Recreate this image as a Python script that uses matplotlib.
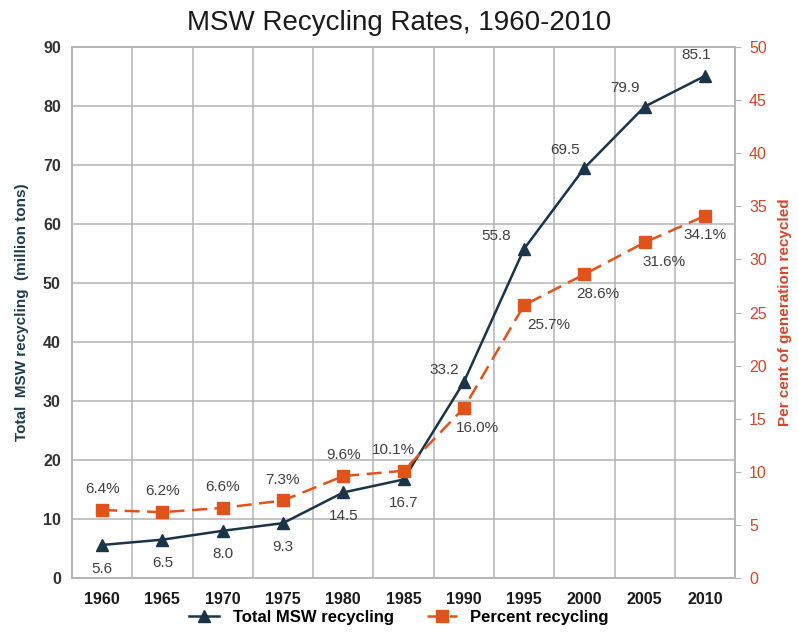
import matplotlib
matplotlib.use("Agg")
import matplotlib.pyplot as plt
from matplotlib.ticker import MultipleLocator

plt.rcParams['font.family'] = ['Liberation Sans', 'DejaVu Sans']

years = ["1960", "1965", "1970", "1975", "1980", "1985", "1990", "1995", "2000", "2005", "2010"]
total_recycling = [5.6, 6.5, 8.0, 9.3, 14.5, 16.7, 33.2, 55.8, 69.5, 79.9, 85.1]
percent_recycling = [6.4, 6.2, 6.6, 7.3, 9.6, 10.1, 16.0, 25.7, 28.6, 31.6, 34.1]

navy = "#1b3447"
orange = "#e2531c"
axis_red = "#d9442a"
grid_c = "#b4b4b4"
text_c = "#404040"

fig = plt.figure(figsize=(7.98, 6.37), dpi=100)
ax = fig.add_axes([0.0902, 0.0926, 0.831, 0.8336])
ax2 = ax.twinx()

x = list(range(len(years)))

ax.set_xlim(-0.5, len(years) - 0.5)
ax.set_ylim(0, 90)
ax.yaxis.set_major_locator(MultipleLocator(10))
ax2.set_ylim(0, 50)
ax2.yaxis.set_major_locator(MultipleLocator(5))

ax.set_xticks(x)
ax.set_xticklabels(years)
ax.set_xticks([i + 0.5 for i in x[:-1]], minor=True)
ax.grid(True, which='minor', axis='x', color=grid_c, lw=1.1)
ax.grid(True, which='major', axis='y', color=grid_c, lw=1.1)
ax.set_axisbelow(True)
ax.tick_params(axis='x', which='both', length=0, pad=10)
ax.tick_params(axis='x', labelsize=11.5, labelcolor="#1a1a1a")
for lab in ax.get_xticklabels():
    lab.set_fontweight('bold')
ax.tick_params(axis='y', length=0, pad=8, labelsize=11.5, labelcolor="#333333")
for lab in ax.get_yticklabels():
    lab.set_fontweight('bold')
ax2.tick_params(axis='y', length=4, color=grid_c, pad=6, labelsize=11.5, labelcolor=axis_red)

for a in (ax, ax2):
    for s in a.spines.values():
        s.set_color(grid_c)
        s.set_linewidth(1.1)

l1, = ax.plot(x, total_recycling, color=navy, lw=1.8, marker='^', ms=9,
              label="Total MSW recycling", zorder=4)
l2, = ax2.plot(x, percent_recycling, color=orange, lw=1.8, ls=(0, (6, 3)),
               marker='s', ms=9, label="Percent recycling", zorder=5)

# label offsets (points) for the tonnage series
total_offsets = [(0, -12)] * 6 + [(-14, 4), (-20, 4), (-14, 8), (-14, 8), (-6, 10)]
for i, v in enumerate(total_recycling):
    dx, dy = total_offsets[i]
    ax.annotate(f"{v:.1f}", (i, v), xytext=(dx, dy), textcoords='offset points',
                ha='center', va='top' if dy < 0 else 'bottom', fontsize=11, color=text_c)

# label offsets (points) for the percentage series
pct_offsets = [(0, 10)] * 5 + [(-7, 10), (10, -9), (18, -9), (10, -9), (14, -9), (0, -9)]
for i, v in enumerate(percent_recycling):
    dx, dy = pct_offsets[i]
    ax2.annotate(f"{v:.1f}%", (i, v), xytext=(dx, dy), textcoords='offset points',
                 ha='center', va='top' if dy < 0 else 'bottom', fontsize=11, color=text_c)

ax.set_ylabel("Total  MSW recycling  (million tons)", fontsize=11, fontweight='bold',
              color="#1f3d4d", labelpad=10)
ax2.set_ylabel("Per cent of generation recycled", fontsize=11, fontweight='bold',
               color=axis_red, labelpad=8)

fig.suptitle("MSW Recycling Rates, 1960-2010", fontsize=20, color="#1a1a1a", y=0.985)

fig.legend(handles=[l1, l2], loc='lower center', bbox_to_anchor=(0.5, -0.005), ncol=2,
           frameon=False, handlelength=1.8, columnspacing=2.0,
           prop={'weight': 'bold', 'size': 12})

fig.savefig("out.png", dpi=100)
